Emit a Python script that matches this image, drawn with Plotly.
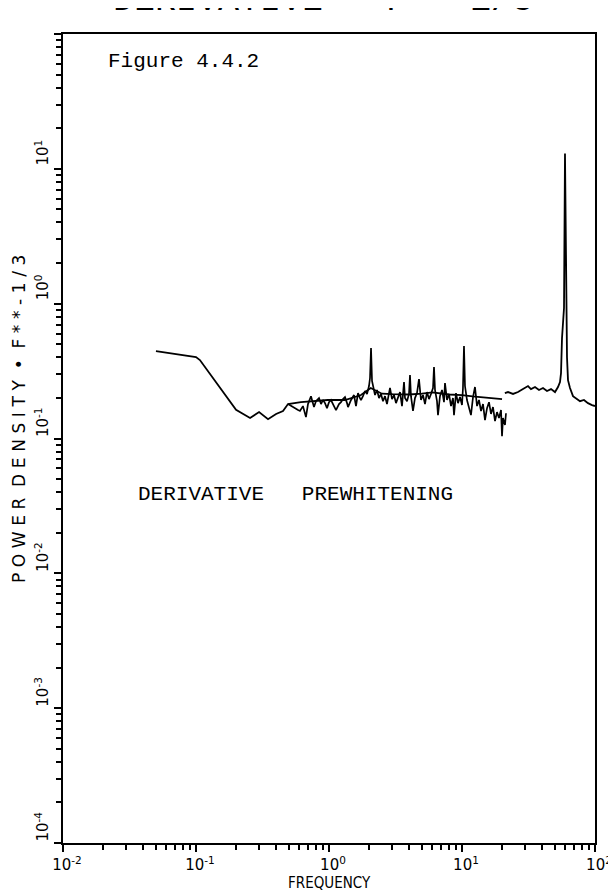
import plotly.graph_objects as go

# ---- data ----
smooth_f = [0.050, 0.073, 0.100, 0.107, 0.146, 0.200, 0.255, 0.298, 0.348, 0.400,
            0.451, 0.492, 0.615, 0.98, 1.32, 1.74, 2.06, 2.5, 3.0, 4.0,
            5.0, 6.0, 8.0, 10.0, 12.0, 15.0, 18.0, 20.0]
smooth_p = [0.445, 0.423, 0.402, 0.382, 0.249, 0.163, 0.142, 0.157, 0.139, 0.152,
            0.160, 0.180, 0.186, 0.193, 0.193, 0.210, 0.237, 0.215, 0.213, 0.212,
            0.215, 0.220, 0.212, 0.210, 0.205, 0.200, 0.198, 0.196]

noisy_f = [0.492, 0.518, 0.555, 0.585, 0.605, 0.637, 0.671, 0.695, 0.732, 0.771,
           0.798, 0.841, 0.871, 0.901, 0.933, 0.966, 1.000, 1.035, 1.090, 1.129,
           1.189, 1.231, 1.274, 1.319, 1.366, 1.390, 1.464, 1.542, 1.596, 1.652,
           1.710, 1.740, 1.801, 1.865, 1.931, 1.999, 2.034, 2.070, 2.106, 2.180,
           2.218, 2.296, 2.377, 2.460, 2.547, 2.636, 2.729, 2.826, 2.875, 2.977,
           3.082, 3.190, 3.302, 3.419, 3.539, 3.664, 3.727, 3.859, 3.995, 4.064,
           4.134, 4.280, 4.431, 4.587, 4.749, 4.916, 5.090, 5.269, 5.455, 5.648,
           5.847, 6.053, 6.159, 6.266, 6.486, 6.599, 6.832, 7.073, 7.322, 7.449,
           7.711, 7.984, 8.265, 8.556, 8.705, 9.012, 9.332, 9.661, 10.00, 10.17,
           10.35, 10.53, 10.90, 11.29, 11.68, 12.10, 12.52, 12.97, 13.42, 13.90,
           14.39, 14.89, 15.42, 15.96, 16.52, 17.10, 17.71, 18.33, 18.97, 19.65,
           19.99, 20.34, 21.05, 21.42]
noisy_p = [0.180, 0.174, 0.168, 0.1625, 0.160, 0.174, 0.144, 0.180, 0.206, 0.171,
           0.189, 0.1995, 0.180, 0.193, 0.183, 0.168, 0.186, 0.193, 0.174, 0.1625,
           0.180, 0.186, 0.196, 0.203, 0.183, 0.171, 0.193, 0.210, 0.174, 0.217,
           0.1995, 0.193, 0.206, 0.225, 0.214, 0.245, 0.281, 0.468, 0.267, 0.221,
           0.210, 0.229, 0.1995, 0.214, 0.189, 0.206, 0.180, 0.217, 0.237, 0.196,
           0.210, 0.183, 0.203, 0.221, 0.174, 0.262, 0.1995, 0.189, 0.214, 0.295,
           0.206, 0.160, 0.1995, 0.217, 0.276, 0.193, 0.210, 0.180, 0.221, 0.196,
           0.214, 0.237, 0.339, 0.229, 0.189, 0.149, 0.206, 0.229, 0.186, 0.258,
           0.193, 0.214, 0.174, 0.1995, 0.149, 0.217, 0.183, 0.203, 0.177, 0.237,
           0.485, 0.245, 0.193, 0.168, 0.149, 0.203, 0.241, 0.174, 0.193, 0.160,
           0.180, 0.137, 0.168, 0.186, 0.152, 0.171, 0.1345, 0.157, 0.142, 0.1625,
           0.104, 0.142, 0.126, 0.154]

high_f = [21.0, 22.17, 24.19, 26.37, 28.75, 31.35, 33.02, 35.39, 37.93, 40.64,
          43.55, 46.70, 50.03, 52.70, 54.56, 55.52, 56.49, 58.48, 59.48, 60.53,
          61.59, 62.66, 64.86, 68.32, 71.95, 77.11, 82.65, 88.57, 94.93, 100.0]
high_p = [0.217, 0.221, 0.214, 0.221, 0.2325, 0.245, 0.2325, 0.241, 0.229, 0.237,
          0.225, 0.2325, 0.221, 0.241, 0.262, 0.3055, 0.556, 0.928, 13.0, 0.9,
          0.4, 0.271, 0.237, 0.206, 0.1995, 0.189, 0.193, 0.183, 0.177, 0.174]

x_decades = [0.01, 0.1, 1, 10, 100]
x_labels = ["10<sup>-2</sup>", "10<sup>-1</sup>", "10<sup>0</sup>", "10<sup>1</sup>", "10<sup>2</sup>"]
y_decades = [1e-4, 1e-3, 1e-2, 1e-1, 1, 10, 100]
y_labels = ["10<sup>-4</sup>", "10<sup>-3</sup>", "10<sup>-2</sup>", "10<sup>-1</sup>",
            "10<sup>0</sup>", "10<sup>1</sup>", "10<sup>2</sup>"]

x_minor = [m * d for d in [0.01, 0.1, 1, 10] for m in range(2, 10)]
y_minor = [m * d for d in [1e-4, 1e-3, 1e-2, 1e-1, 1, 10] for m in range(2, 10)]

LINE = dict(color="black", width=1.8)

fig = go.Figure()
fig.add_trace(go.Scatter(x=smooth_f, y=smooth_p, mode="lines", line=LINE, showlegend=False))
fig.add_trace(go.Scatter(x=noisy_f, y=noisy_p, mode="lines", line=dict(color="black", width=1.7), showlegend=False))
fig.add_trace(go.Scatter(x=high_f, y=high_p, mode="lines", line=LINE, showlegend=False))

TICKFONT = dict(family="DejaVu Sans", size=15, color="black")

fig.update_xaxes(
    type="log", range=[-2, 2], showgrid=False, zeroline=False,
    showline=True, linecolor="black", linewidth=2, mirror=True,
    ticks="outside", ticklen=7, tickwidth=1.5, tickcolor="black",
    tickmode="array", tickvals=x_decades, ticktext=x_labels, tickfont=TICKFONT,
    ticklabelshift=4,
    minor=dict(tickmode="array", tickvals=x_minor, ticks="outside", ticklen=5,
               tickwidth=1.5, tickcolor="black", showgrid=False),
)
fig.update_yaxes(
    type="log", range=[-4, 2], showgrid=False, zeroline=False,
    showline=True, linecolor="black", linewidth=2, mirror=True,
    ticks="outside", ticklen=7, tickwidth=1.5, tickcolor="black",
    tickmode="array", tickvals=y_decades, ticktext=y_labels, tickfont=TICKFONT,
    tickangle=-90, ticklabelshift=-14,
    minor=dict(tickmode="array", tickvals=y_minor, ticks="outside", ticklen=5,
               tickwidth=1.5, tickcolor="black", showgrid=False),
)

SP = "\u2004"  # three-per-em space used as letter spacing
ytitle = (SP.join("POWER") + "  " + SP.join("DENSITY") + "  •  " + SP.join("F**-1/3"))

fig.update_layout(
    width=616, height=890,
    margin=dict(l=55, r=29, t=26, b=55),
    plot_bgcolor="white", paper_bgcolor="white",
    annotations=[
        dict(text="Figure 4.4.2", xref="paper", yref="paper", x=0.081, y=0.966,
             xanchor="left", yanchor="middle", showarrow=False,
             font=dict(family="Liberation Mono", size=21, color="black")),
        dict(text="DERIVATIVE   PREWHITENING", xref="paper", yref="paper", x=0.138, y=0.431,
             xanchor="left", yanchor="middle", showarrow=False,
             font=dict(family="Liberation Mono", size=21, color="black")),
        dict(text="DERIVATIVE   F**-1/3", xref="paper", yref="paper", x=0.09, y=1.041,
             xanchor="left", yanchor="middle", showarrow=False,
             font=dict(family="Liberation Mono", size=35, color="black")),
        dict(text="FREQUENCY", xref="paper", yref="paper", x=0.5, y=-0.05,
             xanchor="center", yanchor="middle", showarrow=False,
             font=dict(family="Liberation Sans Narrow, DejaVu Sans Condensed, DejaVu Sans", size=15, color="black")),
        dict(text=ytitle, xref="paper", yref="paper", x=-0.083, y=0.525,
             xanchor="center", yanchor="middle", textangle=-90, showarrow=False,
             font=dict(family="DejaVu Sans", size=17, color="black")),
    ],
)

fig.write_html("out.html")
